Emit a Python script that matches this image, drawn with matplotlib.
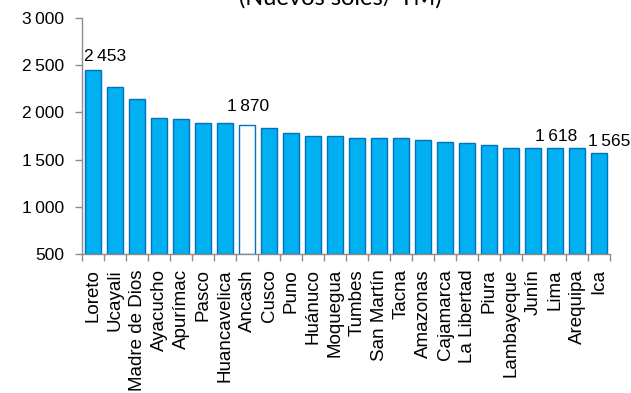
import matplotlib
matplotlib.use("Agg")
import matplotlib.pyplot as plt
import numpy as np

regions = ["Loreto", "Ucayali", "Madre de Dios", "Ayacucho", "Apurímac", "Pasco",
           "Huancavelica", "Ancash", "Cusco", "Puno", "Huánuco", "Moquegua",
           "Tumbes", "San Martín", "Tacna", "Amazonas", "Cajamarca", "La Libertad",
           "Piura", "Lambayeque", "Junín", "Lima", "Arequipa", "Ica"]
prices = [2453, 2266, 2138, 1936, 1925, 1885, 1883, 1870, 1830, 1777, 1748, 1746,
          1727, 1727, 1727, 1706, 1688, 1671, 1653, 1620, 1619, 1618, 1618, 1565]
labelled = ["Loreto", "Ancash", "Lima", "Ica"]
highlight = "Ancash"

yticks = [500, 1000, 1500, 2000, 2500, 3000]


def fmt(v):
    # thousands separated by a thin space, Excel style
    return f"{v:,}".replace(",", "\u2009")


plt.rcParams['font.family'] = ['Liberation Sans', 'DejaVu Sans']

fig = plt.figure(figsize=(6.31, 3.93), dpi=100)
ax = fig.add_axes([0.130, 0.354, 0.837, 0.600])

x = np.arange(len(regions))
face = ['white' if r == highlight else '#00B0F0' for r in regions]
ax.bar(x, [p - 500 for p in prices], bottom=500, width=0.72, color=face,
       edgecolor='#0070C0', linewidth=1.0, zorder=2)

ax.set_xlim(-0.5, len(regions) - 0.5)
ax.set_ylim(500, 3000)
ax.set_yticks(yticks)
ax.set_yticklabels([fmt(v) for v in yticks], fontsize=12.5)
ax.set_xticks(x)
ax.set_xticklabels(regions, rotation=90, fontsize=13.5)
ax.set_xticks(np.arange(len(regions) + 1) - 0.5, minor=True)
ax.tick_params(axis='x', which='major', length=0, pad=11)
ax.tick_params(axis='x', which='minor', length=5, color='#8c8c8c', width=1)
ax.tick_params(axis='y', length=5, color='#8c8c8c', width=1, pad=8)

for s in ['top', 'right']:
    ax.spines[s].set_visible(False)
for s in ['left', 'bottom']:
    ax.spines[s].set_color('#8c8c8c')
    ax.spines[s].set_linewidth(1)

# value labels: offsets (points) as placed by hand in the original
offsets = {"Loreto": (9, 4), "Ancash": (1, 8), "Lima": (1, 3), "Ica": (7, 3)}
for r in labelled:
    i = regions.index(r)
    ax.annotate(fmt(prices[i]), (i, prices[i]), xytext=offsets[r],
                textcoords='offset points', ha='center', va='bottom', fontsize=12.5)

fig.text(0.54, 0.978, "(Nuevos soles/ TM)", ha='center', va='bottom',
         fontsize=17, family=['Lato', 'DejaVu Sans'])

fig.savefig("out.png", dpi=100)
